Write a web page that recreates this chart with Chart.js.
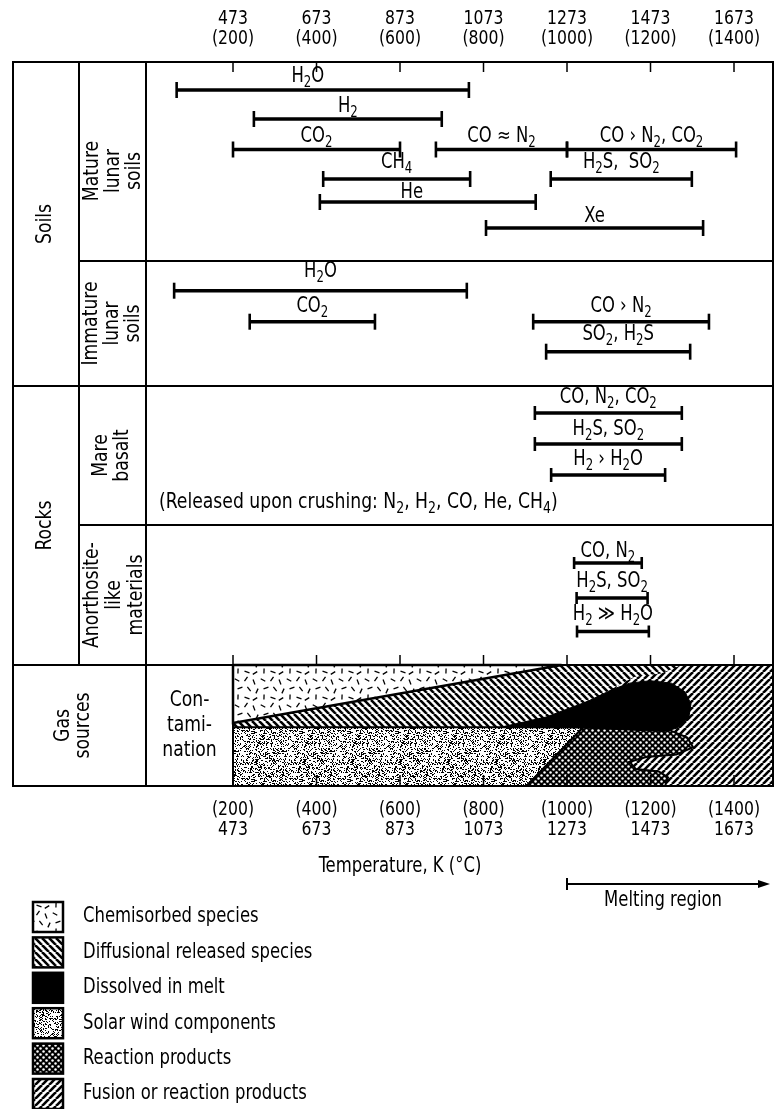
<!DOCTYPE html>
<html>
<head>
<meta charset="utf-8">
<script src="https://cdn.jsdelivr.net/npm/chart.js@4.4.6/dist/chart.umd.min.js"></script>
<style>
  html,body{margin:0;padding:0;background:#fff}
  #wrap{width:775px;height:1109px}
</style>
</head>
<body>
<div id="wrap"><canvas id="c" width="775" height="1109"></canvas></div>
<script>
// Gas release temperature ranges for lunar samples, drawn on a linear deg C scale.
const FONT = "'Liberation Sans Narrow','DejaVu Sans Condensed','Liberation Sans',sans-serif";
const SX = 0.87; // squeeze text a bit, the original lettering is narrow

// axis ticks: deg C and the matching kelvin
const tickC = [200, 400, 600, 800, 1000, 1200, 1400];
const tickK = [473, 673, 873, 1073, 1273, 1473, 1673];

// release ranges ('_' = next char is a subscript), deg C
const barLabels = [
  'H_2O', 'H_2', 'CO_2', 'CO ≈ N_2', 'CO › N_2, CO_2', 'CH_4', 'H_2S,  SO_2', 'He', 'Xe',
  'H_2O', 'CO_2', 'CO › N_2', 'SO_2, H_2S',
  'CO, N_2, CO_2', 'H_2S, SO_2', 'H_2 › H_2O',
  'CO, N_2', 'H_2S, SO_2', 'H_2 ≫ H_2O'
];
const barStart = [65, 250, 200, 686, 1000, 416, 961, 408, 806,  59, 240, 919, 950,  923, 923, 962,  1017, 1023, 1024];
const barEnd   = [765, 700, 600, 1000, 1405, 768, 1299, 925, 1326,  760, 540, 1340, 1295,  1275, 1275, 1235,  1179, 1193, 1196];
const barRow   = [0, 1, 2, 2, 2, 3, 3, 4, 5,  6, 7, 7, 8,  9, 10, 11,  12, 13, 14];

// gas source areas: [deg C, depth in the band 0 (top) .. 1 (bottom)]
const chemisorbed = [[200,0],[987,0],[200,0.48],[200,0]];
const diffusional = [[200,0.48],[987,0],[1275,0],[1225,0.07],[1160,0.1],[1080,0.25],[950,0.45],[880,0.515],[200,0.515],[200,0.48]];
const solarWind   = [[200,0.515],[1039,0.515],[903,1],[200,1],[200,0.515]];
const dissolved   = [[840,0.515],[950,0.43],[1050,0.3],[1110,0.2],[1150,0.15],[1200,0.13],[1250,0.15],[1282,0.22],[1297,0.32],[1292,0.43],[1265,0.52],[1232,0.55],[1039,0.52],[840,0.515]];
const reaction    = [[1039,0.515],[1240,0.53],[1288,0.6],[1302,0.68],[1262,0.74],[1190,0.76],[1150,0.8],[1165,0.86],[1220,0.88],[1242,0.93],[1235,1],[903,1],[1039,0.515]];
const fusion      = [[1000,0],[1500,0],[1500,1],[1000,1],[1000,0]];

const legendNames = ['Chemisorbed species','Diffusional released species','Dissolved in melt',
  'Solar wind components','Reaction products','Fusion or reaction products'];

// ---- layout (page pixels) ----
const rowY     = [90, 119, 149.5, 179, 202, 228,  290.7, 321.7, 351.7,  413, 444, 475,  563, 598, 631.5];
const labelGap = [13, 12, 13, 16, 9, 11,  19, 15, 17,  15, 14, 15,  11, 16, 17];
const capR     = [8, 8, 8, 8, 8, 8,  8, 8, 8,  7, 7, 7,  6, 6, 6];
const labelShift = {0: -15, 7: -16};   // bar index -> px
const Y = {top: 62, mature: 261, soils: 386, mare: 525, rocks: 665, bottom: 786};
const COL = {x0: 13, x1: 79};
const gasY = f => Y.rocks + f * (Y.bottom - Y.rocks);

// ---- fill patterns ----
function tile(size, draw){
  const c = document.createElement('canvas');
  c.width = c.height = size;
  const g = c.getContext('2d');
  draw(g, size);
  return g.createPattern(c, 'repeat');
}
function hatch(forward){
  return tile(7, (g, s) => {
    g.fillStyle = '#fff'; g.fillRect(0, 0, s, s);
    g.strokeStyle = '#000'; g.lineWidth = 2.6;
    for (let k = -1; k <= 1; k++){
      g.beginPath();
      if (forward){ g.moveTo(k*s, s); g.lineTo(k*s + s, 0); }
      else { g.moveTo(k*s, 0); g.lineTo(k*s + s, s); }
      g.stroke();
    }
  });
}
const dashes = [[3,4,0.5],[12,3,2.2],[20,6,1.2],[6,12,2.8],[15,13,0.9],[23,15,2.0],[4,21,1.6],[13,22,0.3],[21,23,2.6]];
const PAT = {
  chem: tile(26, (g, s) => {
    g.fillStyle = '#fff'; g.fillRect(0, 0, s, s);
    g.strokeStyle = '#000'; g.lineWidth = 1.3;
    dashes.forEach(([x, y, a]) => {
      g.beginPath();
      g.moveTo(x - 2.6*Math.cos(a), y - 2.6*Math.sin(a));
      g.lineTo(x + 2.6*Math.cos(a), y + 2.6*Math.sin(a));
      g.stroke();
    });
  }),
  diff: hatch(false),
  melt: '#000',
  solar: tile(48, (g, s) => {
    g.fillStyle = '#fff'; g.fillRect(0, 0, s, s);
    g.fillStyle = '#000';
    let seed = 7;
    for (let i = 0; i < s*s; i++){
      seed = (seed * 1103515245 + 12345) % 2147483648;
      if (seed / 2147483648 < 0.3) g.fillRect(i % s, Math.floor(i / s), 1, 1);
    }
  }),
  react: tile(6, (g, s) => {
    g.fillStyle = '#000'; g.fillRect(0, 0, s, s);
    g.fillStyle = '#fff';
    [[1.5,1.5],[4.5,4.5]].forEach(([x, y]) => { g.beginPath(); g.arc(x, y, 1.25, 0, Math.PI*2); g.fill(); });
  }),
  fusion: hatch(true)
};
const legendFills = [PAT.chem, PAT.diff, PAT.melt, PAT.solar, PAT.react, PAT.fusion];

// ---- text helpers ----
function txt(ctx, t, x, y, size, align){
  ctx.save();
  ctx.font = size + 'px ' + FONT;
  ctx.textAlign = align || 'center'; ctx.textBaseline = 'middle';
  ctx.translate(x, y); ctx.scale(SX, 1);
  ctx.fillText(t, 0, 0);
  ctx.restore();
}
function chemParts(str){
  const parts = [];
  for (let i = 0; i < str.length; i++){
    if (str[i] === '_'){ parts.push({t: str[i+1], sub: true}); i++; continue; }
    const last = parts[parts.length - 1];
    if (last && !last.sub) last.t += str[i]; else parts.push({t: str[i], sub: false});
  }
  return parts;
}
function drawChem(ctx, str, x, y, size, align){
  const parts = chemParts(str);
  const subSize = Math.round(size*0.72);
  let w = 0;
  parts.forEach(p => {
    ctx.font = (p.sub ? subSize : size) + 'px ' + FONT;
    p.w = ctx.measureText(p.t).width * SX; w += p.w;
  });
  let cx = align === 'left' ? x : x - w/2;
  parts.forEach(p => {
    txt(ctx, p.t, cx, p.sub ? y + size*0.3 : y, p.sub ? subSize : size, 'left');
    cx += p.w;
  });
}
function rotLines(ctx, lines, cx, cy, size, lh){
  ctx.save();
  ctx.translate(cx, cy); ctx.rotate(-Math.PI/2);
  lines.forEach((t, i) => txt(ctx, t, 0, (i - (lines.length - 1)/2) * lh, size));
  ctx.restore();
}

// ---- datasets ----
const barSets = barLabels.map((lab, i) => ({
  label: lab,
  data: [{x: barStart[i], y: rowY[barRow[i]]}, {x: barEnd[i], y: rowY[barRow[i]]}],
  borderColor: '#000', borderWidth: 3.4,
  pointStyle: 'line', pointRotation: 90, pointRadius: capR[barRow[i]],
  pointBorderWidth: 2.6, pointBorderColor: '#000', pointBackgroundColor: '#000',
  fill: false, tension: 0
}));
function area(label, pts, bg, bw){
  return {
    label, data: pts.map(p => ({x: p[0], y: gasY(p[1])})),
    backgroundColor: bg, borderColor: '#000', borderWidth: bw,
    pointRadius: 0, fill: 'shape', tension: 0
  };
}
// first dataset is drawn on top
const areaSets = [
  area('Dissolved in melt', dissolved, PAT.melt, 1),
  area('Reaction products', reaction, PAT.react, 2),
  area('Solar wind components', solarWind, PAT.solar, 2),
  area('Chemisorbed species', chemisorbed, PAT.chem, 2.5),
  area('Diffusional released species', diffusional, PAT.diff, 0),
  area('Fusion or reaction products', fusion, PAT.fusion, 0)
];

const overlay = {
  id: 'overlay',
  afterDraw(chart){
    const {ctx, chartArea: ca} = chart;
    const xs = chart.scales.x, ys = chart.scales.y;
    const px = v => xs.getPixelForValue(v), py = v => ys.getPixelForValue(v);
    const x200 = px(200);
    ctx.save();
    ctx.strokeStyle = '#000'; ctx.fillStyle = '#000'; ctx.lineCap = 'square';

    // frame
    ctx.lineWidth = 2;
    const line = (x1, y1, x2, y2) => { ctx.beginPath(); ctx.moveTo(x1, y1); ctx.lineTo(x2, y2); ctx.stroke(); };
    ctx.strokeRect(COL.x0, py(Y.top), ca.right - COL.x0, py(Y.bottom) - py(Y.top));
    line(COL.x1, py(Y.top), COL.x1, py(Y.rocks));
    line(ca.left, py(Y.top), ca.left, py(Y.bottom));
    line(x200, py(Y.rocks), x200, py(Y.bottom));
    line(COL.x1, py(Y.mature), ca.right, py(Y.mature));
    line(COL.x0, py(Y.soils), ca.right, py(Y.soils));
    line(COL.x1, py(Y.mare), ca.right, py(Y.mare));
    line(COL.x0, py(Y.rocks), ca.right, py(Y.rocks));

    // inner tick marks
    ctx.lineWidth = 1.5; ctx.lineCap = 'butt';
    tickC.forEach(t => {
      const x = px(t);
      line(x, py(Y.top), x, py(Y.top) + 10);
      line(x, py(Y.rocks), x, py(Y.rocks) - 10);
      line(x, py(Y.bottom), x, py(Y.bottom) - 11);
    });

    // tick labels
    tickC.forEach((t, i) => {
      const x = px(t);
      txt(ctx, String(tickK[i]), x, 19, 20);
      txt(ctx, '(' + t + ')', x, 39, 20);
      txt(ctx, '(' + t + ')', x, py(Y.bottom) + 24, 20);
      txt(ctx, String(tickK[i]), x, py(Y.bottom) + 44, 20);
    });
    txt(ctx, 'Temperature, K (°C)', px(600), py(Y.bottom) + 81, 21);

    // bar labels
    barLabels.forEach((lab, i) => {
      const r = barRow[i];
      const mid = (px(barStart[i]) + px(barEnd[i])) / 2 + (labelShift[i] || 0);
      drawChem(ctx, lab, mid, py(rowY[r]) - labelGap[r], 21);
    });
    drawChem(ctx, '(Released upon crushing: N_2, H_2, CO, He, CH_4)', ca.left + 13, py(502), 22, 'left');

    // row headers
    rotLines(ctx, ['Soils'], 45, py((Y.top + Y.soils)/2), 22, 21);
    rotLines(ctx, ['Rocks'], 45, py((Y.soils + Y.rocks)/2), 22, 21);
    rotLines(ctx, ['Gas', 'sources'], 73, py((Y.rocks + Y.bottom)/2), 22, 20);
    rotLines(ctx, ['Mature', 'lunar', 'soils'], 113, py(171), 22, 21);
    rotLines(ctx, ['Immature', 'lunar', 'soils'], 112, py((Y.mature + Y.soils)/2), 22, 21);
    rotLines(ctx, ['Mare', 'basalt'], 112, py((Y.soils + Y.mare)/2), 22, 21);
    rotLines(ctx, ['Anorthosite-', 'like', 'materials'], 114, py((Y.mare + Y.rocks)/2), 22, 22);
    ['Con-', 'tami-', 'nation'].forEach((t, i) => txt(ctx, t, (ca.left + x200)/2, py(gasY(0.5)) + (i - 1)*25, 22));

    // melting region arrow
    const ay = py(Y.bottom) + 98, ax0 = px(1000), ax1 = ca.right - 3;
    ctx.lineWidth = 2;
    line(ax0, ay, ax1 - 6, ay);
    line(ax0, ay - 6, ax0, ay + 6);
    ctx.beginPath(); ctx.moveTo(ax1, ay); ctx.lineTo(ax1 - 12, ay - 4); ctx.lineTo(ax1 - 12, ay + 4); ctx.closePath(); ctx.fill();
    txt(ctx, 'Melting region', px(1230), ay + 17, 21);

    // legend
    legendNames.forEach((name, i) => {
      const top = 902 + i*35.4;
      ctx.fillStyle = legendFills[i];
      ctx.fillRect(33, top, 30, 30);
      ctx.lineWidth = 2.5; ctx.strokeStyle = '#000';
      ctx.strokeRect(33, top, 30, 30);
      ctx.fillStyle = '#000';
      txt(ctx, name, 83, top + 15, 21, 'left');
    });
    ctx.restore();
  }
};

new Chart(document.getElementById('c'), {
  type: 'line',
  data: {datasets: [...barSets, ...areaSets]},
  options: {
    responsive: false,
    animation: false,
    events: [],
    layout: {autoPadding: false, padding: {left: 146, right: 2, top: 62, bottom: 323}},
    scales: {
      x: {type: 'linear', min: -8.4, max: 1493.4, display: false},
      y: {type: 'linear', min: 62, max: 786, reverse: true, display: false}
    },
    plugins: {legend: {display: false}, tooltip: {enabled: false}}
  },
  plugins: [overlay]
});
</script>
</body>
</html>
